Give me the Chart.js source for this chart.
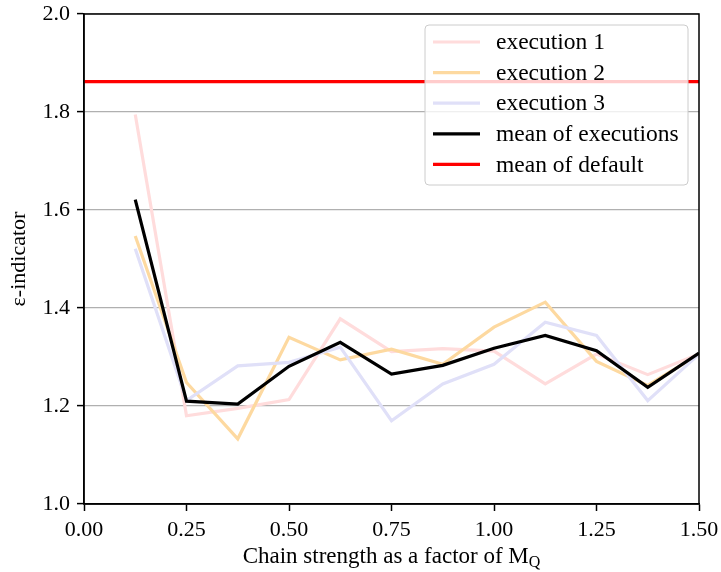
<!DOCTYPE html>
<html>
<head>
<meta charset="utf-8">
<script src="https://cdn.jsdelivr.net/npm/chart.js@4/dist/chart.umd.min.js"></script>
<style>
  html, body { margin: 0; padding: 0; background: #ffffff; }
  #wrap { width: 721px; height: 572px; }
</style>
</head>
<body>
<div id="wrap"><canvas id="c" width="721" height="572"></canvas></div>
<script>
// Chain strength values (factor of M_Q)
const chainStrength = [0.125, 0.25, 0.375, 0.5, 0.625, 0.75, 0.875, 1.0, 1.125, 1.25, 1.375, 1.5];

// epsilon-indicator per execution
const execution1 = [1.795, 1.180, 1.195, 1.213, 1.378, 1.311, 1.317, 1.312, 1.245, 1.306, 1.264, 1.306];
const execution2 = [1.547, 1.248, 1.133, 1.340, 1.294, 1.316, 1.285, 1.361, 1.412, 1.291, 1.242, 1.306];
const execution3 = [1.521, 1.211, 1.282, 1.289, 1.320, 1.170, 1.245, 1.285, 1.371, 1.344, 1.211, 1.306];
const meanOfExecutions = [1.621, 1.210, 1.204, 1.281, 1.330, 1.265, 1.283, 1.318, 1.344, 1.313, 1.238, 1.308];

// Mean of the default setting (constant reference level)
const defaultMean = 1.862;
const xRange = [0, 1.5];

const seriesLabels = ['execution 1', 'execution 2', 'execution 3', 'mean of executions', 'mean of default'];
const seriesColors = ['#ffdcdc', '#fdd9a0', '#e0e0f8', '#000000', '#ff0000'];

const xTickValues = [0, 0.25, 0.5, 0.75, 1.0, 1.25, 1.5];
const yTickValues = [1.0, 1.2, 1.4, 1.6, 1.8, 2.0];

const FONT = '"Liberation Serif", "Times New Roman", serif';

function pairs(xs, ys) { return xs.map((x, i) => ({ x: x, y: ys[i] })); }

const seriesData = [
  pairs(chainStrength, execution1),
  pairs(chainStrength, execution2),
  pairs(chainStrength, execution3),
  pairs(chainStrength, meanOfExecutions),
  pairs(xRange, [defaultMean, defaultMean])
];

const datasets = seriesData.map((d, i) => ({
  label: seriesLabels[i],
  data: d,
  borderColor: seriesColors[i],
  backgroundColor: seriesColors[i],
  borderWidth: 3.2,
  pointRadius: 0,
  tension: 0,
  fill: false,
  order: seriesData.length - i
}));

// Closes the plot frame on the top and right sides
const framePlugin = {
  id: 'frame',
  afterDatasetsDraw(chart) {
    const { ctx, chartArea: a } = chart;
    ctx.save();
    ctx.strokeStyle = '#000';
    ctx.lineWidth = 1.5;
    ctx.strokeRect(a.left, a.top, a.right - a.left, a.bottom - a.top);
    ctx.restore();
  }
};

// x-axis title with subscript
const xTitlePlugin = {
  id: 'xTitle',
  afterDraw(chart) {
    const { ctx, chartArea: a } = chart;
    const main = 'Chain strength as a factor of M';
    const sub = 'Q';
    ctx.save();
    ctx.fillStyle = '#000';
    ctx.textBaseline = 'alphabetic';
    ctx.font = '23px ' + FONT;
    const w1 = ctx.measureText(main).width;
    ctx.font = '16px ' + FONT;
    const w2 = ctx.measureText(sub).width;
    const cx = (a.left + a.right) / 2;
    const x0 = cx - (w1 + w2) / 2;
    const base = a.bottom + 59;
    ctx.font = '23px ' + FONT;
    ctx.fillText(main, x0, base);
    ctx.font = '16px ' + FONT;
    ctx.fillText(sub, x0 + w1, base + 4);
    ctx.restore();
  }
};

// Framed legend in the upper-right corner of the plot area
const boxLegendPlugin = {
  id: 'boxLegend',
  afterDraw(chart) {
    const { ctx, chartArea: a } = chart;
    const boxW = 263, boxH = 160;
    const bx = a.right - 11 - boxW, by = a.top + 11;
    ctx.save();
    ctx.beginPath();
    ctx.roundRect(bx, by, boxW, boxH, 4);
    ctx.fillStyle = 'rgba(255,255,255,0.8)';
    ctx.fill();
    ctx.strokeStyle = '#cccccc';
    ctx.lineWidth = 1;
    ctx.stroke();
    ctx.font = '23.5px ' + FONT;
    ctx.textBaseline = 'middle';
    ctx.fillStyle = '#000';
    chart.data.datasets.forEach((ds, i) => {
      const y = by + 17 + i * 30.6;
      ctx.beginPath();
      ctx.moveTo(bx + 8, y);
      ctx.lineTo(bx + 55, y);
      ctx.strokeStyle = ds.borderColor;
      ctx.lineWidth = 3.2;
      ctx.stroke();
      ctx.fillText(ds.label, bx + 71, y + 1);
    });
    ctx.restore();
  }
};

new Chart(document.getElementById('c'), {
  type: 'line',
  data: { datasets: datasets },
  options: {
    responsive: false,
    animation: false,
    devicePixelRatio: 1,
    layout: { padding: { top: 14, right: 22, left: 0, bottom: 0 } },
    plugins: {
      legend: { display: false },
      tooltip: { enabled: false }
    },
    scales: {
      x: {
        type: 'linear',
        min: xRange[0],
        max: xRange[1],
        afterFit(scale) {
          scale.height = 68;
          scale.paddingLeft = 0;
          scale.paddingRight = 0;
        },
        afterBuildTicks(scale) { scale.ticks = xTickValues.map(v => ({ value: v })); },
        grid: {
          drawOnChartArea: false,
          drawTicks: true,
          tickLength: 7,
          tickColor: '#000',
          tickWidth: 1.5
        },
        border: { color: '#000', width: 1.5 },
        ticks: {
          color: '#000',
          padding: 6,
          font: { family: FONT, size: 22 },
          callback: v => Number(v).toFixed(2)
        },
        title: { display: false }
      },
      y: {
        type: 'linear',
        min: 1.0,
        max: 2.0,
        afterFit(scale) {
          scale.width = 84;
          scale.paddingTop = 0;
          scale.paddingBottom = 0;
        },
        afterBuildTicks(scale) { scale.ticks = yTickValues.map(v => ({ value: v })); },
        grid: {
          color: '#b0b0b0',
          lineWidth: 1.2,
          drawTicks: true,
          tickLength: 7,
          tickColor: '#000',
          tickWidth: 1.5
        },
        border: { color: '#000', width: 1.5 },
        ticks: {
          color: '#000',
          padding: 7,
          font: { family: FONT, size: 22 },
          callback: v => Number(v).toFixed(1)
        },
        title: {
          display: true,
          text: 'ε-indicator',
          color: '#000',
          font: { family: FONT, size: 22 },
          padding: { top: 6, bottom: 0 }
        }
      }
    }
  },
  plugins: [framePlugin, boxLegendPlugin, xTitlePlugin]
});
</script>
</body>
</html>
